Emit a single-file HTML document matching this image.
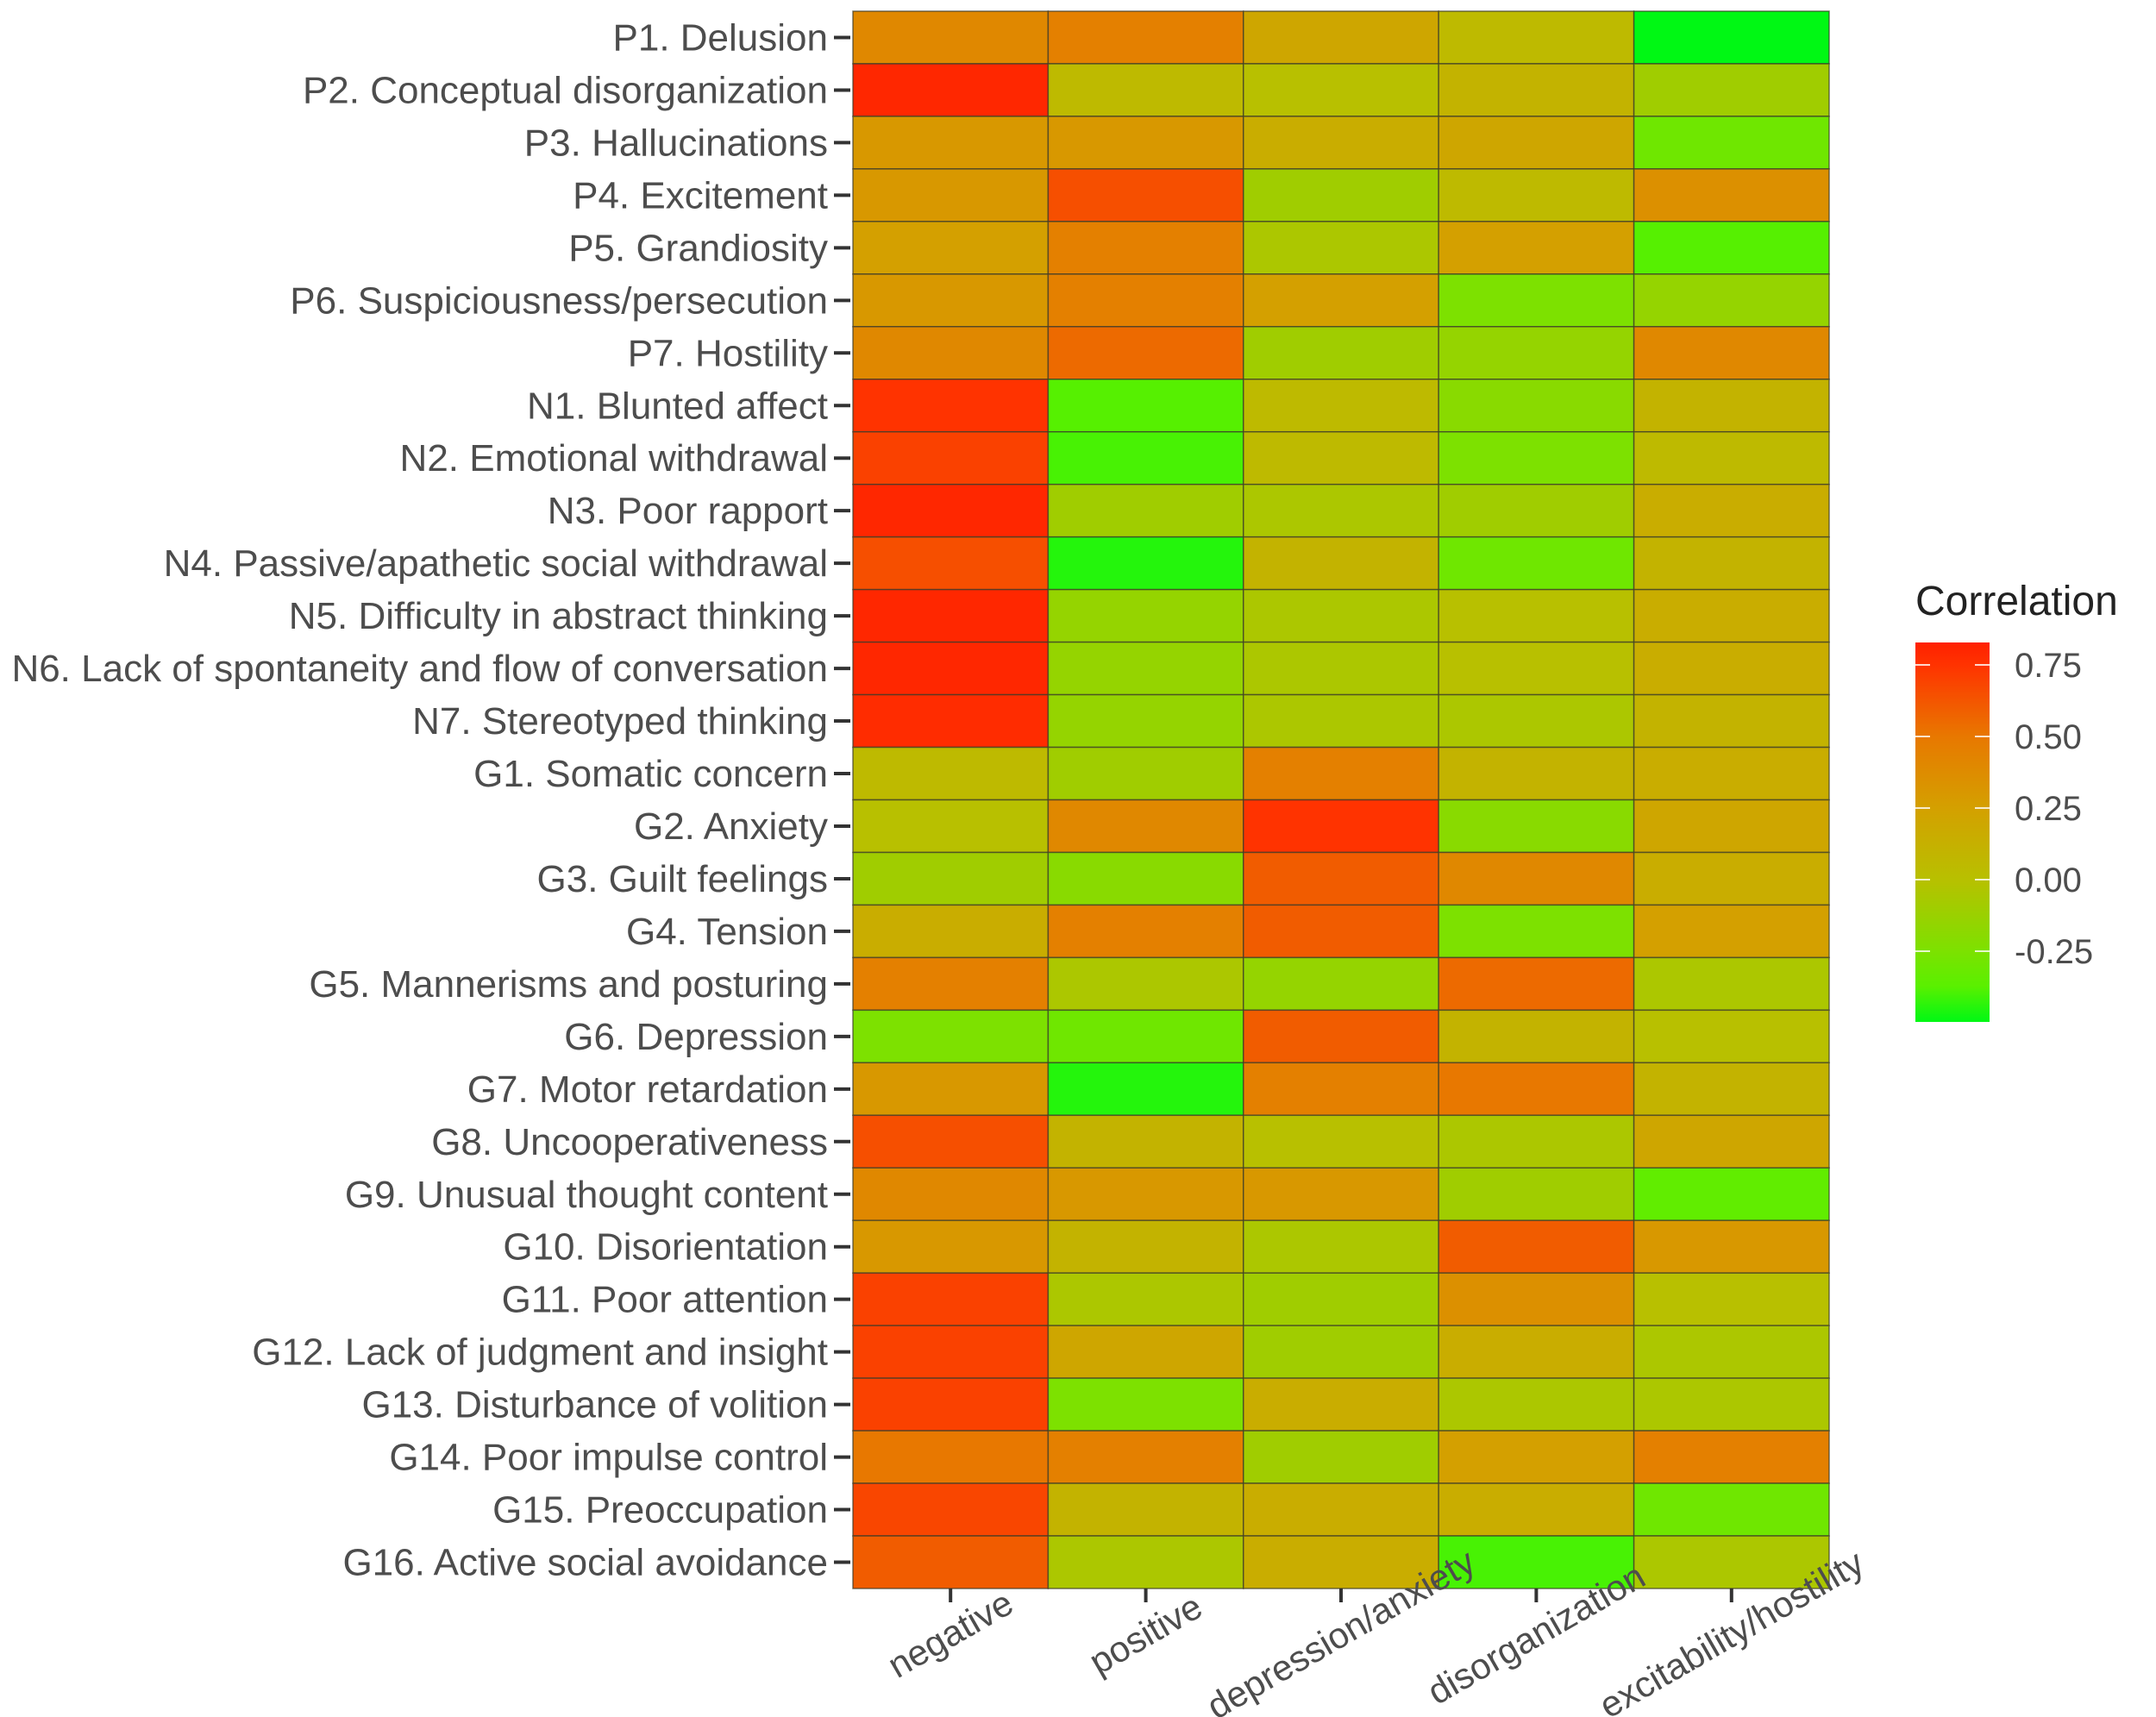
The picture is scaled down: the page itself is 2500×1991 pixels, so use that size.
<!DOCTYPE html>
<html><head><meta charset="utf-8"><style>
html,body{margin:0;padding:0;background:#fff;}
svg{display:block;font-family:"Liberation Sans",Arial,sans-serif;}
</style></head><body>
<svg id="chart" width="2500" height="1991" viewBox="0 0 2500 1991" xmlns="http://www.w3.org/2000/svg">
<defs>
<linearGradient id="lg" x1="0" y1="1" x2="0" y2="0">
<stop offset="0" stop-color="#00f814"/>
<stop offset="0.094" stop-color="#5af000"/>
<stop offset="0.188" stop-color="#7de100"/>
<stop offset="0.376" stop-color="#b8c000"/>
<stop offset="0.564" stop-color="#d4a000"/>
<stop offset="0.752" stop-color="#e87800"/>
<stop offset="0.94" stop-color="#ff3300"/>
<stop offset="1" stop-color="#ff2000"/>
</linearGradient>
</defs>
<g id="cells"></g>
<g id="yaxis"></g>
<g id="xaxis"></g>
<g>
<text x="2221" y="713" font-size="48" fill="#222">Correlation</text>
<rect x="2221" y="745" width="86" height="440" fill="url(#lg)"/>
<g id="legticks"></g>
</g>
</svg>
<script>
const rows = ["P1. Delusion","P2. Conceptual disorganization","P3. Hallucinations","P4. Excitement","P5. Grandiosity","P6. Suspiciousness/persecution","P7. Hostility","N1. Blunted affect","N2. Emotional withdrawal","N3. Poor rapport","N4. Passive/apathetic social withdrawal","N5. Difficulty in abstract thinking","N6. Lack of spontaneity and flow of conversation","N7. Stereotyped thinking","G1. Somatic concern","G2. Anxiety","G3. Guilt feelings","G4. Tension","G5. Mannerisms and posturing","G6. Depression","G7. Motor retardation","G8. Uncooperativeness","G9. Unusual thought content","G10. Disorientation","G11. Poor attention","G12. Lack of judgment and insight","G13. Disturbance of volition","G14. Poor impulse control","G15. Preoccupation","G16. Active social avoidance"];
const cols = ["negative","positive","depression/anxiety","disorganization","excitability/hostility"];
const negativeVals = [0.4,0.8,0.3,0.3,0.25,0.3,0.4,0.75,0.7,0.8,0.65,0.8,0.8,0.78,0.05,0.0,-0.1,0.15,0.45,-0.25,0.3,0.65,0.4,0.3,0.7,0.7,0.7,0.5,0.68,0.6];
const positiveVals = [0.45,0.05,0.3,0.65,0.45,0.45,0.55,-0.38,-0.4,-0.1,-0.45,-0.15,-0.15,-0.15,-0.1,0.4,-0.2,0.45,-0.05,-0.3,-0.45,0.1,0.3,0.1,-0.05,0.2,-0.25,0.45,0.1,-0.05];
const depressionVals = [0.2,0.0,0.15,-0.1,-0.05,0.25,-0.1,0.05,0.05,-0.05,0.1,-0.05,-0.05,-0.05,0.45,0.75,0.6,0.6,-0.15,0.6,0.45,0.0,0.3,-0.05,-0.1,-0.1,0.15,-0.1,0.15,0.15];
const disorgVals = [0.05,0.1,0.2,0.05,0.25,-0.25,-0.15,-0.2,-0.25,-0.1,-0.3,0.0,0.0,-0.05,0.1,-0.2,0.4,-0.25,0.55,0.1,0.5,-0.05,-0.1,0.6,0.35,0.15,-0.05,0.25,0.15,-0.4];
const excitVals = [-0.5,-0.1,-0.3,0.35,-0.38,-0.15,0.4,0.1,0.05,0.15,0.1,0.15,0.15,0.1,0.15,0.2,0.15,0.25,-0.05,0.0,0.1,0.2,-0.35,0.3,0.0,-0.05,-0.05,0.45,-0.3,-0.05];
const legendTicks = [0.75,0.5,0.25,0,-0.25];
const legendLabels = ["0.75","0.50","0.25","0.00","-0.25"];
const series = [negativeVals,positiveVals,depressionVals,disorgVals,excitVals];

const NS="http://www.w3.org/2000/svg";
const X0=989,X1=2121,Y0=13,Y1=1842;
const cw=(X1-X0)/cols.length, rh=(Y1-Y0)/rows.length;
const xPos=i=>X0+i*cw, yPos=j=>Y0+j*rh;
const vMin=-0.5,vMax=0.83;
const legY=v=>1020-v*332;
const stops=[[-0.5,[0,248,20]],[-0.375,[90,240,0]],[-0.25,[125,225,0]],[0,[184,192,0]],[0.25,[212,160,0]],[0.5,[232,120,0]],[0.75,[255,51,0]],[0.83,[255,32,0]]];
function color(v){
  v=Math.max(vMin,Math.min(vMax,v));
  for(let k=0;k<stops.length-1;k++){const a=stops[k],b=stops[k+1];
    if(v<=b[0]){const t=(v-a[0])/(b[0]-a[0]);
      return 'rgb('+a[1].map((c,i)=>Math.round(c+(b[1][i]-c)*t)).join(',')+')';}}
  return 'rgb(255,32,0)';
}
function mk(tag,attrs,parent){const e=document.createElementNS(NS,tag);for(const k in attrs)e.setAttribute(k,attrs[k]);parent.appendChild(e);return e;}
const cells=document.getElementById('cells');
series.forEach((s,i)=>{s.forEach((v,j)=>{
  const r=mk('rect',{x:xPos(i),y:yPos(j),width:cw,height:rh,fill:color(v),stroke:'#3a3a2a','stroke-width':1.5,'stroke-opacity':0.7},cells);
  
  
});});
const ya=document.getElementById('yaxis');
rows.forEach((lab,j)=>{
  const cy=yPos(j)+rh/2;
  const t=mk('line',{x1:967,x2:986,y1:cy,y2:cy,stroke:'#333','stroke-width':4},ya);
  
  
  const tx=mk('text',{x:960,y:cy+15,'text-anchor':'end','font-size':44,fill:'#4d4d4d'},ya);
  tx.textContent=lab;
  
  
});
const xa=document.getElementById('xaxis');
cols.forEach((lab,i)=>{
  const cx=xPos(i)+cw/2;
  const t=mk('line',{x1:cx,x2:cx,y1:Y1,y2:Y1+16,stroke:'#333','stroke-width':4},xa);
  
  
  const tx=mk('text',{x:cx,y:1909,'text-anchor':'middle','font-size':42,fill:'#4d4d4d',transform:'rotate(-30 '+cx+' 1895)'},xa);
  tx.textContent=lab;
  
  
});
const lt=document.getElementById('legticks');
legendTicks.forEach((v,k)=>{
  const y=legY(v);
  mk('line',{x1:2221,x2:2238,y1:y,y2:y,stroke:'#fff','stroke-width':2,'stroke-opacity':0.8},lt);
  mk('line',{x1:2290,x2:2307,y1:y,y2:y,stroke:'#fff','stroke-width':2,'stroke-opacity':0.8},lt);
  const tx=mk('text',{x:2336,y:y+14,'font-size':40,fill:'#4d4d4d'},lt);
  tx.textContent=legendLabels[k];
  
  
});
</script>
</body></html>
